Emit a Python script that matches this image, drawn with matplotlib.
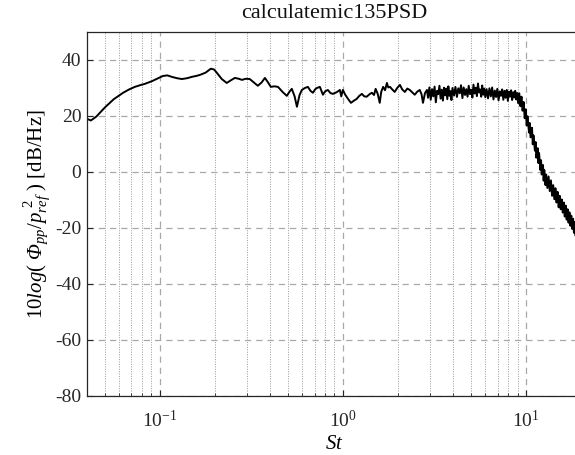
import matplotlib
matplotlib.use("Agg")
import matplotlib.pyplot as plt
from matplotlib.ticker import LogLocator, NullFormatter, FixedLocator

plt.rcParams['font.family'] = ['Liberation Serif', 'DejaVu Serif']
plt.rcParams['mathtext.fontset'] = 'custom'
plt.rcParams['mathtext.rm'] = 'Liberation Serif'
plt.rcParams['mathtext.it'] = 'Liberation Serif:italic'
plt.rcParams['mathtext.sf'] = 'Liberation Serif:italic'
plt.rcParams['mathtext.bf'] = 'Liberation Serif:bold'
plt.rcParams['axes.unicode_minus'] = False

title = "calculatemic135PSD"

# low-frequency part (smooth)
st_low = [0.040, 0.042, 0.045, 0.050, 0.056, 0.063, 0.068, 0.073, 0.078, 0.083, 0.091,
          0.098, 0.104, 0.110, 0.116, 0.124, 0.132, 0.141, 0.150, 0.158, 0.166, 0.178,
          0.190, 0.198, 0.205, 0.218, 0.232, 0.245, 0.257, 0.270, 0.281, 0.295, 0.310,
          0.326, 0.343, 0.360, 0.375, 0.390, 0.404, 0.422, 0.442, 0.470, 0.494, 0.510,
          0.526, 0.545, 0.561, 0.580, 0.597, 0.620, 0.644, 0.665, 0.686, 0.705, 0.721,
          0.749, 0.778, 0.800, 0.828, 0.855, 0.881, 0.925, 0.963, 0.980, 1.000, 1.03,
          1.07, 1.107, 1.15, 1.19, 1.23, 1.27, 1.31, 1.35, 1.40, 1.44, 1.48, 1.51, 1.55,
          1.59, 1.62, 1.66, 1.70, 1.74, 1.77, 1.81, 1.86, 1.92, 1.98, 2.05, 2.11, 2.18,
          2.25, 2.32, 2.40, 2.47, 2.55, 2.63, 2.69, 2.74, 2.81, 2.88]
psd_low = [19.0, 18.4, 19.8, 23.0, 26.0, 28.3, 29.5, 30.4, 31.0, 31.5, 32.5,
           33.5, 34.3, 34.5, 34.0, 33.5, 33.2, 33.5, 34.0, 34.3, 34.7, 35.5,
           36.9, 36.6, 35.4, 33.2, 31.8, 32.8, 33.6, 33.3, 32.9, 33.3, 33.2,
           32.0, 30.8, 32.0, 33.6, 32.0, 30.4, 30.6, 30.4, 28.5, 27.2, 28.6,
           29.7, 27.0, 23.3, 27.5, 29.3, 30.0, 30.4, 29.0, 28.3, 29.5, 30.0,
           30.4, 27.6, 28.8, 29.3, 28.2, 27.9, 28.5, 29.3, 27.0, 29.3, 27.6,
           26.0, 24.7, 25.5, 26.1, 27.2, 27.9, 27.0, 26.9, 27.8, 28.3, 27.5, 29.7, 27.9,
           24.7, 28.6, 30.4, 29.2, 31.8, 30.2, 30.4, 29.5, 28.6, 30.0, 31.1, 29.5, 28.6,
           29.8, 29.3, 28.4, 27.6, 28.7, 29.3, 27.8, 24.7, 28.2, 29.3]

# high-frequency part (noisy)
st_high = [2.92, 2.97, 3.02, 3.07, 3.12, 3.17, 3.22, 3.27, 3.32, 3.37, 3.42, 3.47,
           3.52, 3.57, 3.62, 3.67, 3.72, 3.77, 3.82, 3.87, 3.92, 3.97,
           4.05, 4.12, 4.20, 4.27, 4.35, 4.42, 4.50, 4.57, 4.65, 4.72, 4.80, 4.87,
           4.95, 5.02, 5.10, 5.17, 5.25, 5.32, 5.40, 5.47, 5.55, 5.62, 5.70, 5.77,
           5.85, 5.92, 6.00,
           6.10, 6.21, 6.32, 6.43, 6.54, 6.65, 6.76, 6.87, 6.98, 7.09, 7.20, 7.31,
           7.42, 7.53, 7.64, 7.75, 7.86, 7.97, 8.08, 8.19, 8.30, 8.41, 8.52, 8.63,
           8.74, 8.85, 8.96,
           9.07, 9.20, 9.33, 9.46, 9.59, 9.72, 9.85, 9.98, 10.1, 10.2, 10.4, 10.5,
           10.6, 10.8, 10.9, 11.0, 11.2, 11.3, 11.4, 11.6, 11.7, 11.8, 12.0, 12.1,
           12.2, 12.4, 12.5, 12.6, 12.8, 12.9,
           13.1, 13.3, 13.5, 13.7, 13.9, 14.1, 14.3, 14.5, 14.7, 14.9, 15.1, 15.3,
           15.5, 15.7, 15.9, 16.1, 16.3, 16.5, 16.7, 16.9, 17.1, 17.3, 17.5, 17.7,
           17.9, 18.1, 18.3, 18.5, 18.7, 18.9, 19.1, 19.3, 19.5, 19.7, 19.9]
psd_high = [26.5, 30.2, 25.8, 29.6, 27.0, 30.5, 24.9, 29.0, 27.8, 30.8, 26.2, 29.4,
            25.5, 30.1, 27.4, 29.8, 26.0, 30.6, 27.2, 28.9, 25.7, 30.0,
            27.3, 30.4, 26.8, 29.9, 28.1, 31.0, 26.4, 30.2, 27.5, 29.6, 26.9, 30.8,
            27.8, 29.4, 26.6, 31.2, 28.0, 30.1, 27.1, 31.6, 28.4, 29.5, 26.9, 30.9,
            27.6, 29.8, 26.7,
            29.6, 26.3, 29.9, 27.0, 30.2, 25.9, 29.1, 26.8, 29.7, 25.6, 28.8, 27.2,
            29.5, 25.8, 29.0, 26.5, 29.3, 25.4, 28.7, 26.9, 29.2, 25.7, 28.5, 26.6,
            29.0, 25.9, 28.2,
            24.6, 28.1, 23.5, 26.9, 21.9, 25.0, 19.2, 22.4, 16.6, 19.9, 14.1, 17.5,
            12.4, 15.8, 9.9, 13.1, 7.6, 10.7, 5.1, 8.5, 3.2, 6.8, 0.7, 4.2,
            -0.9, 2.5, -3.1, 0.7, -4.7, -0.9,
            -5.7, -1.6, -6.8, -3.0, -8.5, -4.7, -9.7, -5.8, -10.9, -7.1, -12.6, -8.5,
            -13.3, -9.8, -14.5, -10.9, -15.9, -12.0, -17.0, -13.3, -18.1, -14.4, -19.2, -15.6,
            -20.3, -16.7, -21.7, -17.8, -22.8, -19.0, -23.7, -19.9, -24.5, -20.8, -25.2]

yticks = [-80, -60, -40, -20, 0, 20, 40]
xticks = [0.1, 1, 10]
xticklabels = [r'$10^{-1}$', r'$10^{0}$', r'$10^{1}$']

fig = plt.figure(figsize=(5.75, 4.55), dpi=100)
ax = fig.add_axes([87/575, 59/455, 494/575, 364/455])

ax.plot(st_low + st_high, psd_low + psd_high, color='black', lw=1.4)

ax.set_xscale('log')
ax.set_xlim(0.04, 20)
ax.set_ylim(-80, 50)
ax.set_yticks(yticks)
ax.xaxis.set_major_locator(FixedLocator(xticks))
ax.set_xticklabels(xticklabels)
ax.xaxis.set_minor_locator(LogLocator(base=10, subs=range(2, 10), numticks=20))
ax.xaxis.set_minor_formatter(NullFormatter())

ax.grid(True, which='major', linestyle=(0, (5, 4)), color='#a8a8a8', lw=0.9)
ax.grid(True, which='minor', axis='x', linestyle=(0, (1, 1.5)), color='#9a9a9a', lw=0.7)

ax.tick_params(which='both', direction='in', colors='#262626', labelsize=14,
               top=False, right=False)
ax.tick_params(axis='x', which='major', length=4, pad=10)
ax.tick_params(axis='y', which='major', length=4, pad=4)
ax.tick_params(which='minor', length=2)
for s in ['left', 'bottom', 'top']:
    ax.spines[s].set_color('#262626')
    ax.spines[s].set_linewidth(0.9)
ax.spines['right'].set_visible(False)

ax.set_title(title, fontsize=16, color='#111111', pad=10)
ax.set_xlabel(r'$\mathit{St}$', fontsize=15, labelpad=3)
ax.set_ylabel(r'$10\mathit{log}(\ \mathsf{Φ}_{pp}/\mathit{p}_{ref}^{\ 2}\ )$ [dB/Hz]',
              fontsize=15, labelpad=2)

fig.savefig('out.png', dpi=100)
